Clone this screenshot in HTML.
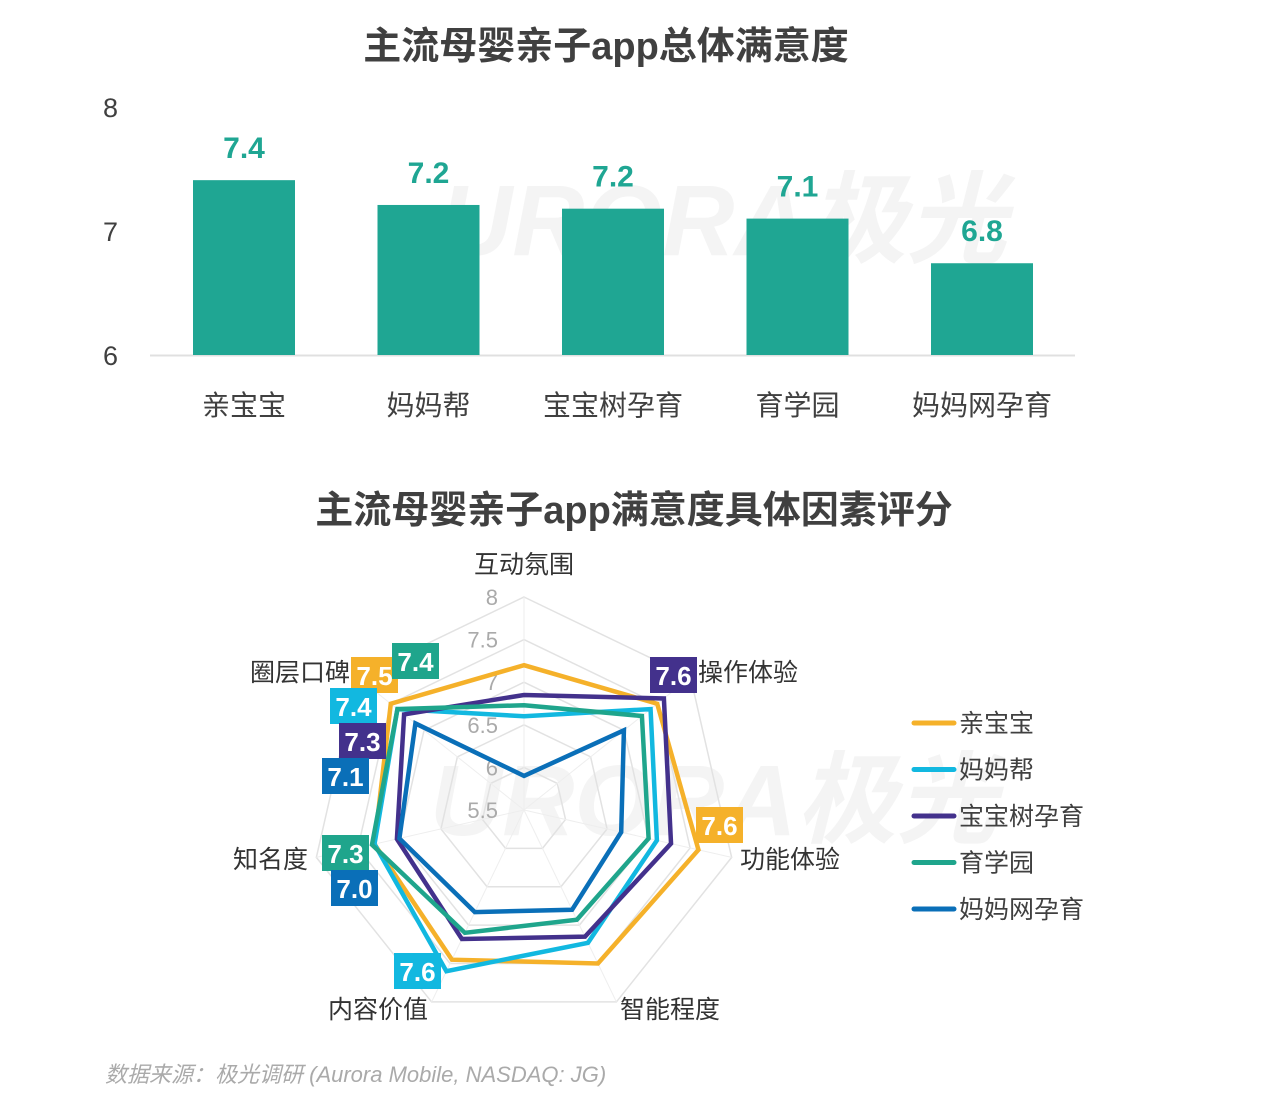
<!DOCTYPE html>
<html><head><meta charset="utf-8">
<style>
html,body{margin:0;padding:0;background:#fff;}
body{width:1269px;height:1102px;overflow:hidden;font-family:"Liberation Sans","Noto Sans CJK SC",sans-serif;}
svg text{font-family:"Liberation Sans","Noto Sans CJK SC",sans-serif;}
</style></head>
<body>
<svg id="chart" width="1269" height="1102" viewBox="0 0 1269 1102" xmlns="http://www.w3.org/2000/svg">
  <g id="wm" fill="#ececec">
    <text x="440" y="255" font-size="100" font-weight="bold" font-style="italic" fill="#f0f0f0" opacity="0.7">URORA极光</text>
    <text x="430" y="835" font-size="100" font-weight="bold" font-style="italic" fill="#f0f0f0" opacity="0.7">URORA极光</text>
  </g>
  <text x="606" y="59" text-anchor="middle" font-size="38" font-weight="bold" fill="#404040">主流母婴亲子app总体满意度</text>
  <g id="bars"></g>
  <text x="634" y="523" text-anchor="middle" font-size="38" font-weight="bold" fill="#404040">主流母婴亲子app满意度具体因素评分</text>
  <g id="radar"></g>
  <g id="legend"></g>
  <text x="105" y="1082" font-size="22" font-style="italic" fill="#aaaaaa">数据来源：极光调研 (Aurora Mobile, NASDAQ: JG)</text>
</svg>
<script>
const barCategories = ["亲宝宝","妈妈帮","宝宝树孕育","育学园","妈妈网孕育"];
const barValues = [7.41, 7.21, 7.18, 7.10, 6.74];
const barLabels = ["7.4","7.2","7.2","7.1","6.8"];
const barTicks = [6, 7, 8];

const radarAxes = ["互动氛围","操作体验","功能体验","智能程度","内容价值","知名度","圈层口碑"];
const radarTicks = ["5.5","6","6.5","7","7.5","8"];
const seriesNames = ["亲宝宝","妈妈帮","宝宝树孕育","育学园","妈妈网孕育"];
const sQinbaobao = [7.2, 7.5, 7.6, 7.5, 7.45, 7.3, 7.5];
const sMamabang = [6.6, 7.4, 7.1, 7.23, 7.6, 7.3, 7.4];
const sBaobaoshu = [6.85, 7.6, 7.27, 7.15, 7.18, 7.03, 7.3];
const sYuxueyuan = [6.73, 7.27, 7.0, 6.93, 7.1, 7.33, 7.4];
const sMamawang = [5.9, 7.0, 6.67, 6.8, 6.83, 7.0, 7.13];

const NS = "http://www.w3.org/2000/svg";
function mk(tag, attrs, parent){const e=document.createElementNS(NS,tag);for(const k in attrs)e.setAttribute(k,attrs[k]);parent.appendChild(e);return e;}

// Bar chart
const bars = document.getElementById('bars');
const yBar = v => 355 - (v-6)*124;
const xBar = i => 193 + i*184.5;
const bw = 102;
barTicks.forEach(t=>{
  const tx = mk('text',{x:118,y:yBar(t)+10,'text-anchor':'end','font-size':27,fill:'#404040'},bars);
  tx.textContent=t;
  
  
});
const base = mk('line',{x1:150,x2:1075,y1:355.5,y2:355.5,stroke:'#e0e0e0','stroke-width':2},bars);


barValues.forEach((v,i)=>{
  const r = mk('rect',{x:xBar(i),y:yBar(v),width:bw,height:355-yBar(v),fill:'#1fa693'},bars);
  
  
  const l = mk('text',{x:xBar(i)+bw/2,y:yBar(v)-22,'text-anchor':'middle','font-size':30,'font-weight':'bold',fill:'#1fa693'},bars);
  l.textContent = barLabels[i];
  
  
  const c = mk('text',{x:xBar(i)+bw/2,y:415,'text-anchor':'middle','font-size':28,fill:'#404040'},bars);
  c.textContent = barCategories[i];
  
  
});

// Radar
const radar = document.getElementById('radar');
const cx=524, cy=810, R=213, vmin=5.5, vmax=8;
const N = radarAxes.length;
const ang = i => i*2*Math.PI/N;
const pt = (i,v) => { const r=(v-vmin)/(vmax-vmin)*R; return [cx+r*Math.sin(ang(i)), cy-r*Math.cos(ang(i))]; };
radarTicks.forEach(t=>{
  const v=parseFloat(t);
  if(v>vmin){
    const pts=radarAxes.map((a,i)=>pt(i,v).join(',')).join(' ');
    const g=mk('polygon',{points:pts,fill:'none',stroke:'#e2e2e2','stroke-width':1.5},radar);
    
    
  }
});
radarAxes.forEach((a,i)=>{
  const p=pt(i,vmax);
  const ln=mk('line',{x1:cx,y1:cy,x2:p[0],y2:p[1],stroke:'#eeeeee','stroke-width':1},radar);
  
  
});
radarTicks.forEach(t=>{
  const v=parseFloat(t);
  const y = cy - (v-vmin)/(vmax-vmin)*R;
  const tx=mk('text',{x:498,y:y+8,'text-anchor':'end','font-size':22,fill:'#aaaaaa'},radar);
  tx.textContent=t;
  
  
});
const axisLabelPos=[[524,573,'middle'],[698,681,'start'],[740,868,'start'],[620,1018,'start'],[428,1018,'end'],[308,868,'end'],[350,681,'end']];
radarAxes.forEach((a,i)=>{
  const p=axisLabelPos[i];
  const tx=mk('text',{x:p[0],y:p[1],'text-anchor':p[2],'font-size':25,fill:'#333333'},radar);
  tx.textContent=a;
  
  
});
const colors=['#f5b12a','#12b8e0','#43318c','#1fa58c','#0a6fb8'];
const allSeries=[sQinbaobao,sMamabang,sBaobaoshu,sYuxueyuan,sMamawang];
allSeries.forEach((s,k)=>{
  const pts=s.map((v,i)=>pt(i,v).join(',')).join(' ');
  const pg=mk('polygon',{points:pts,fill:'none',stroke:colors[k],'stroke-width':4.5,'stroke-linejoin':'miter'},radar);
  
  
});
const annots=[[0,6,'7.5',351,657],[3,6,'7.4',392,643],[1,6,'7.4',330,688],[2,6,'7.3',339,723],[4,6,'7.1',322,758],[2,1,'7.6',650,657],[0,2,'7.6',696,807],[3,5,'7.3',322,835],[4,5,'7.0',331,870],[1,4,'7.6',394,953]];
annots.forEach(a=>{
  const r=mk('rect',{x:a[3],y:a[4],width:47,height:36,fill:colors[a[0]]},radar);
  
  
  const t=mk('text',{x:a[3]+23.5,y:a[4]+28,'text-anchor':'middle','font-size':26,'font-weight':'bold',fill:'#ffffff'},radar);
  t.textContent=a[2];
  
  
});
// Legend
const legend=document.getElementById('legend');
seriesNames.forEach((n,k)=>{
  const y=723+k*46.5;
  const l=mk('line',{x1:914,x2:954,y1:y,y2:y,stroke:colors[k],'stroke-width':5,'stroke-linecap':'round'},legend);
  
  
  const t=mk('text',{x:959,y:y+9,'font-size':25,fill:'#404040'},legend);
  t.textContent=n;
  
  
});
</script>
</body></html>
